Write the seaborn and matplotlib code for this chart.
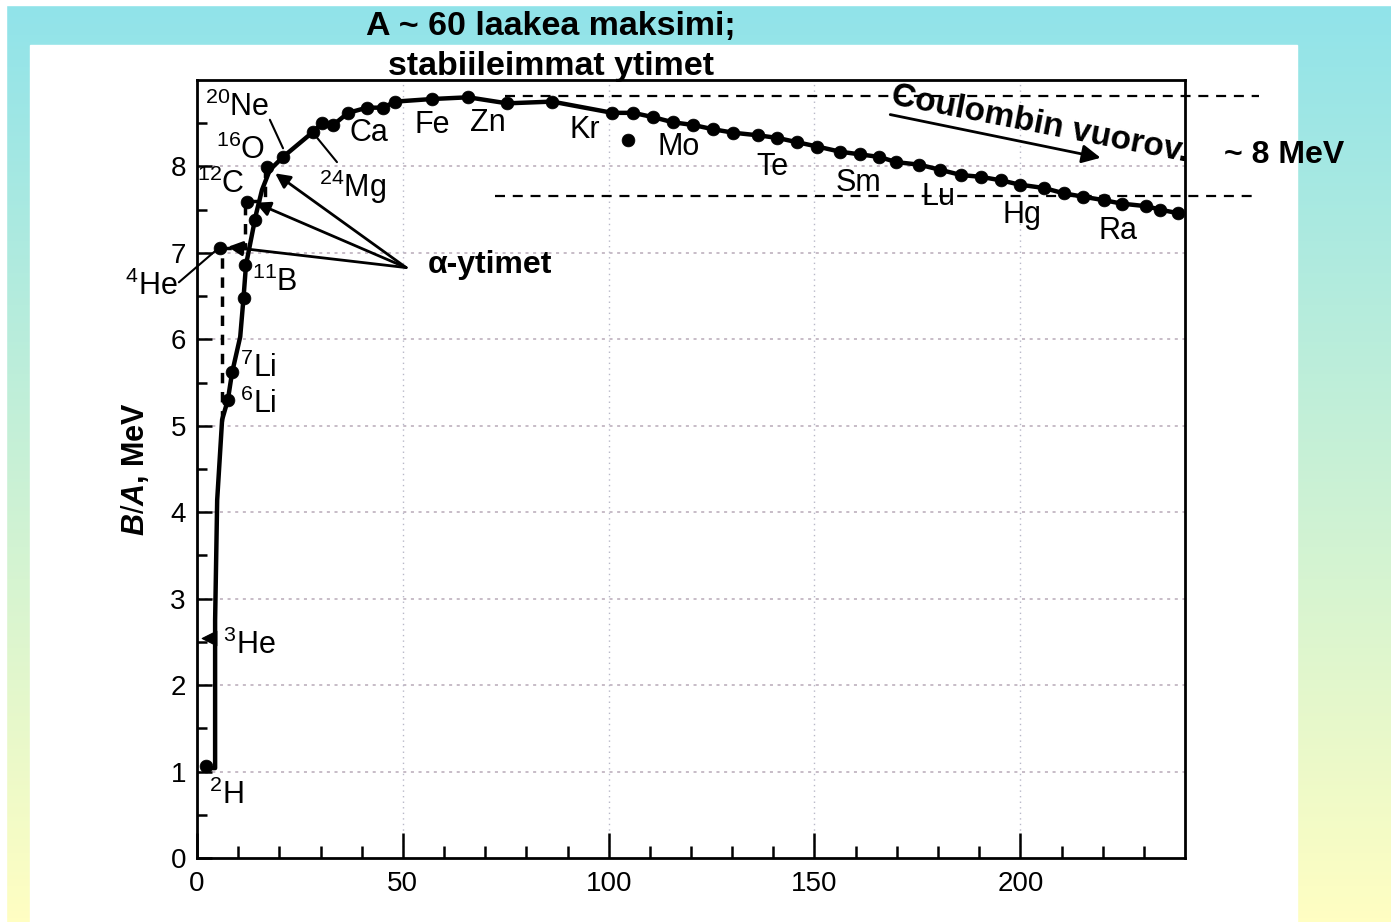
import numpy as np
import matplotlib
matplotlib.use("Agg")
import matplotlib.pyplot as plt
from matplotlib.patches import Rectangle
import seaborn as sns

# Binding energy per nucleon, B/A (MeV) versus mass number A
heavy_A = [20.9, 28.2, 30.4, 33.1, 36.7, 41.3, 45.2, 48.1, 57.1, 65.9, 75.3, 86.3,
           100.9, 106.0, 110.8, 115.7, 120.5, 125.4, 130.3, 136.3, 141.0, 145.8,
           150.7, 156.3, 161.0, 165.7, 169.9, 175.5, 180.6, 185.7, 190.4, 195.2,
           199.8, 205.8, 210.5, 215.2, 220.3, 224.6, 230.6, 234.0, 238.2]
heavy_BA = [8.11, 8.40, 8.50, 8.48, 8.62, 8.68, 8.68, 8.75, 8.78, 8.80, 8.73, 8.75,
            8.62, 8.62, 8.57, 8.51, 8.48, 8.43, 8.39, 8.36, 8.33, 8.28,
            8.23, 8.17, 8.14, 8.11, 8.05, 8.02, 7.96, 7.90, 7.88, 7.84,
            7.79, 7.75, 7.69, 7.65, 7.61, 7.57, 7.54, 7.50, 7.46]

# smooth trend through the light nuclei
light_curve_A = [2.0, 4.4, 4.4, 4.9, 6.1, 7.5, 8.5, 10.5, 11.3, 11.9, 13.1, 14.3, 15.8, 17.7]
light_curve_BA = [1.04, 1.04, 2.75, 4.14, 5.07, 5.30, 5.61, 6.03, 6.48, 6.86, 7.15, 7.44, 7.73, 7.96]

# individual light nuclei
light_A = [2.3, 5.5, 7.5, 8.5, 11.3, 11.6, 12.1, 14.1, 16.9]
light_BA = [1.06, 7.06, 5.30, 5.62, 6.48, 6.86, 7.59, 7.38, 7.99]
he3_A, he3_BA = [3.0], [2.55]
mo_A, mo_BA = [104.8], [8.31]

# alpha-nuclei staircase 4He -> 12C -> 16O
alpha_A = [6.0, 6.0, 11.6, 11.6, 16.4, 16.4]
alpha_BA = [5.05, 7.06, 7.06, 7.60, 7.60, 7.99]

element_labels = ["$^{20}$Ne", "$^{16}$O", "$^{12}$C", "$^{24}$Mg", "Ca", "Fe", "Zn", "Kr",
                  "Mo", "Te", "Sm", "Lu", "Hg", "Ra", "$^{11}$B", "$^{7}$Li", "$^{6}$Li",
                  "$^{3}$He", "$^{2}$H"]
label_A = [9.8, 10.5, 5.8, 37.7, 41.8, 57.1, 70.7, 94.1, 116.9, 139.7, 160.6, 180.1,
           200.3, 223.8, 19.0, 14.8, 14.8, 12.6, 7.0]
label_BA = [8.68, 8.19, 7.79, 7.76, 8.39, 8.48, 8.50, 8.42, 8.23, 7.99, 7.81, 7.65,
            7.44, 7.25, 6.66, 5.67, 5.25, 2.46, 0.73]

x_ticks = [0, 50, 100, 150, 200]
y_ticks = [0, 1, 2, 3, 4, 5, 6, 7, 8]
level_BA = [8.815, 7.66]

sns.set_theme(style="ticks")
plt.rcParams["font.family"] = ["Liberation Sans", "DejaVu Sans"]
plt.rcParams["mathtext.fontset"] = "custom"
plt.rcParams["mathtext.rm"] = "Liberation Sans"
plt.rcParams["mathtext.it"] = "Liberation Sans:italic:bold"
plt.rcParams["mathtext.bf"] = "Liberation Sans:bold"
for key in ["text.color", "axes.labelcolor", "xtick.color", "ytick.color", "axes.edgecolor"]:
    plt.rcParams[key] = "black"

W, H = 1391, 922
fig = plt.figure(figsize=(W / 100, H / 100), dpi=100)

# slide-style backdrop: cyan-to-yellow gradient with a white panel
bg = fig.add_axes([0, 0, 1, 1], zorder=-10)
top_c = np.array([0x90, 0xE3, 0xEA]) / 255
bot_c = np.array([0xFF, 0xFE, 0xC2]) / 255
t = np.linspace(0, 1, 256)[:, None, None]
grad = (1 - t) * top_c + t * bot_c
grad = np.repeat(grad, 2, axis=1)
bg.imshow(grad, aspect="auto", extent=[0, 1, 0, 1], origin="upper")
bg.add_patch(Rectangle((0, 1 - 5 / H), 1, 5 / H, color="white", transform=bg.transAxes, zorder=2))
bg.add_patch(Rectangle((0, 0), 6 / W, 1, color="white", transform=bg.transAxes, zorder=2))
bg.add_patch(Rectangle((30 / W, 0), (1297 - 30) / W, 1 - 45 / H, color="white",
                       transform=bg.transAxes, zorder=2))
bg.set_xlim(0, 1)
bg.set_ylim(0, 1)
bg.axis("off")

ax = fig.add_axes([197 / W, (H - 858) / H, (1185 - 197) / W, (858 - 80) / H], zorder=1)
ax.set_facecolor("none")
ax.set_xlim(0, 240)
ax.set_ylim(0, 9)

# grid
for yv in y_ticks[1:]:
    ax.axhline(yv, color="#b8aab8", lw=1.1, ls=(0, (2, 3)), zorder=0)
for xv in x_ticks[1:]:
    ax.axvline(xv, color="#b8b8c8", lw=1.0, ls=(0, (1, 3)), zorder=0)

curve_A = light_curve_A + heavy_A
curve_BA = light_curve_BA + heavy_BA
sns.lineplot(x=curve_A, y=curve_BA, sort=False, estimator=None, color="black", lw=3.2, ax=ax, zorder=3)
sns.lineplot(x=alpha_A, y=alpha_BA, sort=False, estimator=None, color="black", lw=2.5,
             ls=(0, (3, 2.5)), ax=ax, zorder=3)
sns.scatterplot(x=heavy_A + light_A + mo_A, y=heavy_BA + light_BA + mo_BA, color="black",
                s=85, edgecolor="black", linewidth=0.5, ax=ax, zorder=4)
sns.scatterplot(x=he3_A, y=he3_BA, marker="<", color="black", s=110, edgecolor="black", ax=ax, zorder=4)

# level lines around 8 MeV, running out past the frame
for lv, a0 in zip(level_BA, [74.9, 72.4]):
    ax.plot([a0, 257.9], [lv, lv], color="black", lw=1.6, ls=(0, (4.5, 3.5)), clip_on=False, zorder=2)

# element names
for lab, xa, yb in zip(element_labels, label_A, label_BA):
    ax.text(xa, yb, lab, fontsize=22, ha="center", va="center", color="black", zorder=5)
ax.text(-11.0, 6.61, "$^{4}$He", fontsize=22, ha="center", va="center", clip_on=False)

# leader lines
ax.plot([-4.4, 5.6], [6.66, 7.07], color="black", lw=1.5, clip_on=False, zorder=3)
ax.plot([17.7, 20.9], [8.54, 8.21], color="black", lw=1.5, zorder=3)
ax.plot([29.2, 34.0], [8.33, 8.05], color="black", lw=1.5, zorder=3)

# alpha-nuclei pointers
for tx, ty in [(7.5, 7.07), (14.2, 7.58), (19.0, 7.92)]:
    ax.annotate("", xy=(tx, ty), xytext=(50.8, 6.83),
                arrowprops=dict(arrowstyle="-|>", color="black", lw=2.0,
                                mutation_scale=22, shrinkA=0, shrinkB=0), zorder=3)
ax.text(56.0, 6.86, "\u03b1-ytimet", fontsize=23, fontweight="bold", ha="left", va="center")

# Coulomb repulsion
ax.annotate("", xy=(219.5, 8.10), xytext=(168.4, 8.60),
            arrowprops=dict(arrowstyle="-|>", color="black", lw=2.0, mutation_scale=28,
                            shrinkA=0, shrinkB=0), zorder=3)
ax.text(1040 / W, 1 - 124 / H, "Coulombin vuorov.", transform=fig.transFigure, fontsize=24,
        rotation=-11, rotation_mode="anchor", ha="center", va="center", fontweight="semibold")
fig.text(1284 / W, 1 - 155 / H, "~ 8 MeV", fontsize=23, fontweight="bold", ha="center", va="center")

fig.text(551 / W, 1 - 26 / H, "A ~ 60 laakea maksimi;", fontsize=24.5, fontweight="bold",
         ha="center", va="center")
fig.text(551 / W, 1 - 66 / H, "stabiileimmat ytimet", fontsize=24.5, fontweight="bold",
         ha="center", va="center", zorder=0)

# axes styling
for s in ax.spines.values():
    s.set_linewidth(2.0)
    s.set_color("black")
ax.set_xticks(x_ticks)
ax.set_xticks(np.arange(10, 240, 10), minor=True)
ax.set_yticks(y_ticks)
ax.set_yticks(np.arange(0.5, 9, 0.5), minor=True)
ax.tick_params(axis="x", which="major", direction="in", length=18, width=1.8, labelsize=20, pad=9)
ax.tick_params(axis="x", which="minor", direction="in", length=9, width=1.8)
ax.tick_params(axis="y", which="major", direction="in", length=11, width=1.8, labelsize=20, pad=8)
ax.tick_params(axis="y", which="minor", direction="in", length=7, width=1.8)
ax.tick_params(top=False, right=False)
ax.set_ylabel(r"$\it{B/A}$, MeV", fontsize=22, fontweight="bold", labelpad=14)
ax.set_xlabel("A", fontsize=22, fontstyle="italic", labelpad=20)

fig.savefig("out.png", dpi=100)
